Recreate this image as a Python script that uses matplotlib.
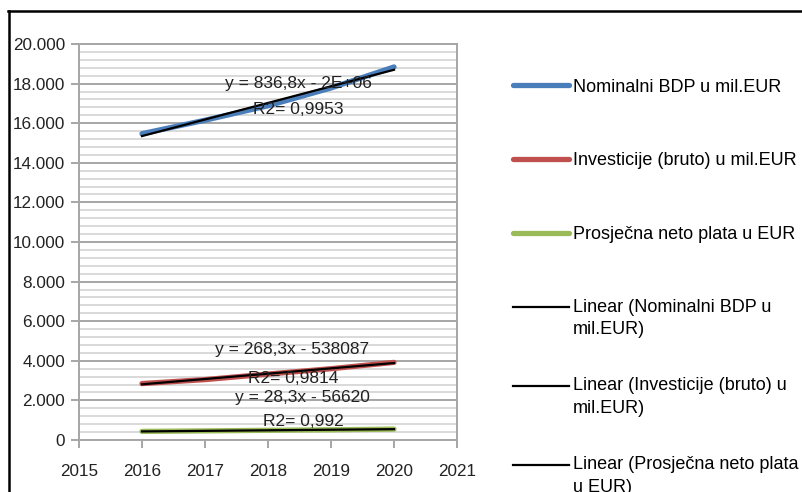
import numpy as np
import matplotlib.pyplot as plt
from matplotlib.ticker import MultipleLocator, FuncFormatter
from matplotlib.lines import Line2D

plt.rcParams['font.family'] = ['Liberation Sans', 'DejaVu Sans']

years = [2016, 2017, 2018, 2019, 2020]
bdp = [15470, 16150, 16880, 17780, 18840]
investicije = [2850, 3050, 3330, 3600, 3920]
plata = [435, 460, 490, 515, 550]

series_labels = ['Nominalni BDP u mil.EUR', 'Investicije (bruto) u mil.EUR', 'Prosječna neto plata u EUR']
trend_labels = ['Linear (Nominalni BDP u\nmil.EUR)', 'Linear (Investicije (bruto) u\nmil.EUR)',
                'Linear (Prosječna neto plata\nu EUR)']
colors = ['#4a7ebb', '#c0504d', '#9bbb59']
eq_texts = [('y = 836,8x - 2E+06', 'R2= 0,9953'),
            ('y = 268,3x - 538087', 'R2= 0,9814'),
            ('y = 28,3x - 56620', 'R2= 0,992')]
eq_pos = [((2018.48, 18030), (2018.48, 16670)),
          ((2018.38, 4550), (2018.40, 3130)),
          ((2018.54, 2170), (2018.56, 910))]

fig = plt.figure(figsize=(8.03, 4.92), dpi=100)
ax = fig.add_axes([79/803, 1-440/492, (457-79)/803, (440-44)/492])

x = np.array(years)
handles = []
trend_handles = []
for vals, lab, c in zip([bdp, investicije, plata], series_labels, colors):
    h, = ax.plot(x, vals, color=c, lw=3.8, solid_capstyle='round', label=lab, zorder=3)
    handles.append(h)
for vals, lab in zip([bdp, investicije, plata], trend_labels):
    k, n = np.polyfit(x, vals, 1)
    t, = ax.plot(x, k*x + n, color='black', lw=1.6, label=lab, zorder=4)
    trend_handles.append(t)

for (e, r), (pe, pr) in zip(eq_texts, eq_pos):
    ax.text(pe[0], pe[1], e, ha='center', va='center', fontsize=12.5, color='#222222', zorder=5)
    ax.text(pr[0], pr[1], r, ha='center', va='center', fontsize=12.5, color='#222222', zorder=5)

ax.set_xlim(2015, 2021)
ax.set_ylim(0, 20000)
ax.xaxis.set_major_locator(MultipleLocator(1))
ax.yaxis.set_major_locator(MultipleLocator(2000))
ax.yaxis.set_minor_locator(MultipleLocator(400))
ax.yaxis.set_major_formatter(FuncFormatter(lambda v, p: '0' if v == 0 else f'{int(v):,}'.replace(',', '.')))
ax.grid(True, axis='y', which='major', color='#a6a6a6', lw=1.4)
ax.grid(True, axis='y', which='minor', color='#d0d0d0', lw=1.1)
ax.set_axisbelow(True)
for s in ['left', 'right', 'bottom', 'top']:
    ax.spines[s].set_color('#a6a6a6')
    ax.spines[s].set_linewidth(1.4)
ax.tick_params(axis='both', which='major', length=6, width=1.4, color='#a6a6a6',
               labelsize=12.3, labelcolor='#222222')
ax.tick_params(axis='y', which='minor', length=0)
ax.tick_params(axis='x', pad=11)
ax.tick_params(axis='y', pad=4)

# series legend
leg1 = fig.legend(handles, series_labels,
                  loc='center left', bbox_to_anchor=(513/803, 1-161/492), frameon=False,
                  fontsize=13, labelspacing=3.15, handlelength=3.1, handletextpad=0.2,
                  borderaxespad=0, borderpad=0)
# trendline legend: blank leading line puts the handle level with the first text line
leg2 = fig.legend(trend_handles, ['\n' + l for l in trend_labels],
                  loc='center left', bbox_to_anchor=(513/803, 1-386/492), frameon=False,
                  fontsize=13, labelspacing=0.9, handlelength=3.1, handletextpad=0.2,
                  borderaxespad=0, borderpad=0)
for t in leg2.get_texts():
    t.set_linespacing(1.45)

fig.add_artist(Line2D([8.5/803, 8.5/803], [0, 1-11/492], color='black', lw=1.8, transform=fig.transFigure))
fig.add_artist(Line2D([8/803, 1], [1-11/492, 1-11/492], color='black', lw=1.8, transform=fig.transFigure))

fig.savefig('out.png', dpi=100)
